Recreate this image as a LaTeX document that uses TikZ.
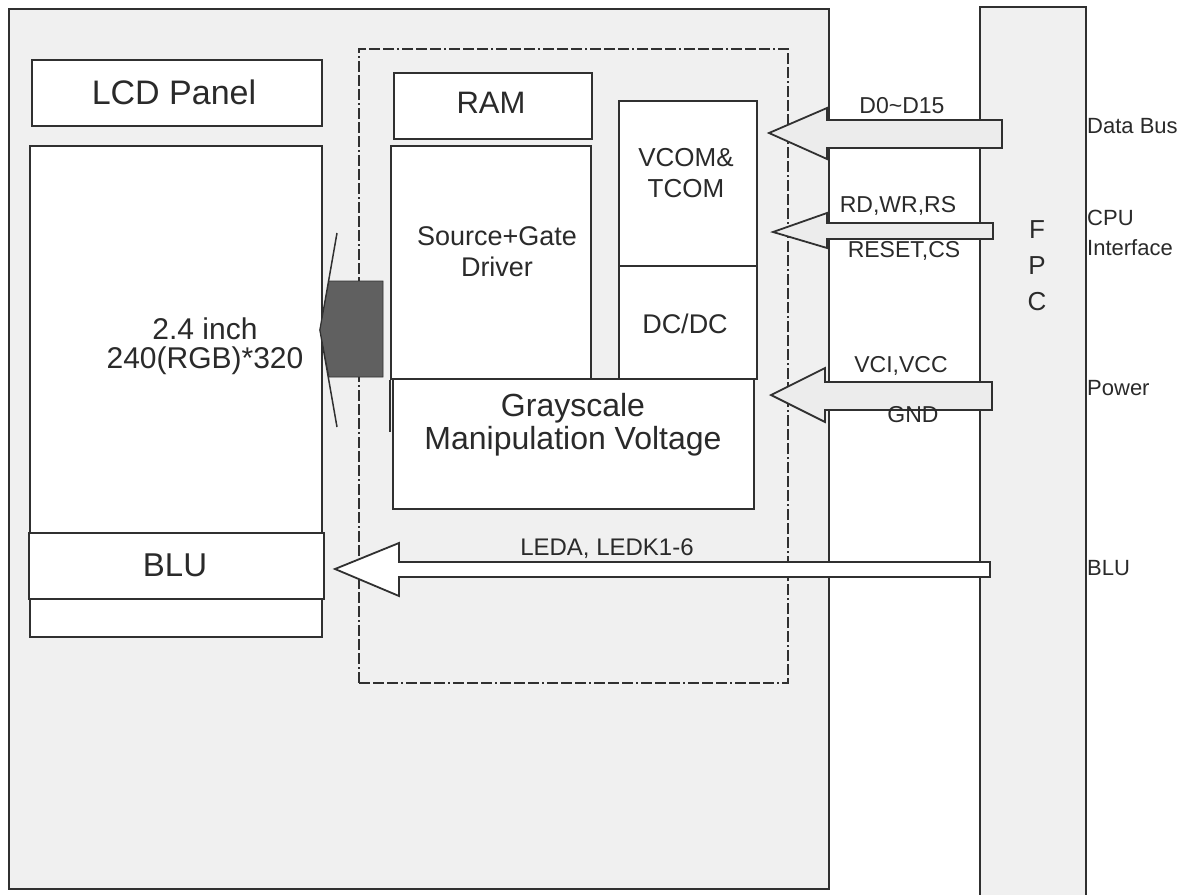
\documentclass[tikz,border=0pt]{standalone}
\usepackage{fontspec}
\setmainfont{Liberation Sans}
\definecolor{linec}{HTML}{303030}
\definecolor{bgray}{HTML}{F0F0F0}
\definecolor{agray}{HTML}{ECECEC}
\definecolor{dgray}{HTML}{606060}
\definecolor{txtc}{HTML}{2A2A2A}
\newcommand{\fsz}[2]{\fontsize{#1}{#2}\selectfont}
\begin{document}
\begin{tikzpicture}[x=1pt,y=-1pt,
  box/.style={draw=linec,line width=2pt,fill=white,inner sep=0pt,anchor=north west},
  txt/.style={inner sep=0pt,text=txtc,align=center},
  barrow/.style={draw=linec,line width=1.8pt,line join=miter,fill=agray}]
\useasboundingbox (0,0) rectangle (1199,894);
\fill[white] (0,0) rectangle (1199,894);
% outer frames
\node[box,fill=bgray,minimum width=820pt,minimum height=880pt] (main) at (8,8) {};
\node[box,fill=bgray,minimum width=106pt,minimum height=900pt] (fpc) at (979,6) {};
% LCD side
\node[box,minimum width=290pt,minimum height=66pt] (lcd) at (31,59) {};
\node[box,minimum width=292pt,minimum height=491pt] (panel) at (29,145) {};
\node[box,minimum width=295pt,minimum height=66pt] (blu) at (28,532) {};
% dark arrow head outline
\coordinate (dt) at (320,330);
\draw[linec,line width=1.5pt] (337,233) -- (dt) -- (337,427);
% dashed IC frame
\node[draw=linec,line width=2.2pt,dash pattern=on 11pt off 3pt on 11pt off 3pt on 11pt off 3pt on 2pt off 3pt,
      minimum width=429pt,minimum height=634pt,inner sep=0pt,anchor=north west] (ic) at (358,48) {};
% dark arrow body
\fill[dgray,draw=linec,line width=0.8pt] (383,281) -- (329,281) -- (dt) -- (329,377) -- (383,377) -- cycle;
% IC blocks
\node[box,minimum width=198pt,minimum height=66pt] (ram) at (393,72) {};
\node[box,minimum width=200pt,minimum height=233pt] (src) at (390,145) {};
\node[box,minimum width=138pt,minimum height=165pt] (vcom) at (618,100) {};
\node[box,minimum width=138pt,minimum height=113pt] (dcdc) at (618,265) {};
\node[box,minimum width=361pt,minimum height=130pt] (gray) at (392,378) {};
\draw[linec,line width=2pt] (src.south west) -- ++(0,52);
% block arrows
\draw[barrow] (1002,120) -- (827,120) -- (827,108) -- (769,133) -- (827,159) -- (827,148) -- (1002,148) -- cycle;
\draw[barrow] (993,223) -- (827,223) -- (827,213) -- (773,232) -- (827,248) -- (827,239) -- (993,239) -- cycle;
\draw[barrow] (992,382) -- (825,382) -- (825,368) -- (771,395) -- (825,422) -- (825,410) -- (992,410) -- cycle;
\draw[barrow,fill=white] (990,562) -- (399,562) -- (399,543) -- (335,569) -- (399,596) -- (399,577) -- (990,577) -- cycle;
% texts
\node[txt,font=\fsz{34}{38}] (tlcd) at (174,92) {LCD Panel};
\node[txt,font=\fsz{30}{29}] (tpan) at (205,346) {2.4 inch\\240(RGB)*320};
\node[txt,font=\fsz{33}{36}] (tblu) at (175,565) {BLU};
\node[txt,font=\fsz{31}{34}] (tram) at (491,103) {RAM};
\node[txt,font=\fsz{27}{31}] (tsrc) at (497,252) {Source+Gate\\Driver};
\node[txt,font=\fsz{26}{31}] (tvcom) at (686,173) {VCOM\&\\TCOM};
\node[txt,font=\fsz{27}{30}] (tdc) at (685,324) {DC/DC};
\node[txt,font=\fsz{32}{33}] (tgray) at (573,425) {Grayscale\\Manipulation Voltage};
\node[txt,font=\fsz{23}{26}] (d015) at (902,106) {D0\textasciitilde D15};
\node[txt,font=\fsz{23}{26}] (rdwr) at (898,206) {RD,WR,RS};
\node[txt,font=\fsz{23}{26}] (rst) at (904,251) {RESET,CS};
\node[txt,font=\fsz{23}{26}] (vci) at (901,366) {VCI,VCC};
\node[txt,font=\fsz{23}{26}] (gnd) at (913,415) {GND};
\node[txt,font=\fsz{24}{26}] (led) at (607,549) {LEDA, LEDK1-6};
\node[txt,font=\fsz{26}{36}] (tfpc) at (1037,266) {F\\P\\C};
\node[txt,font=\fsz{22}{24},anchor=west,align=left] (ldb) at (1087,126) {Data Bus};
\node[txt,font=\fsz{22}{30},anchor=west,align=left] (lcpu) at (1087,233) {CPU\\Interface};
\node[txt,font=\fsz{22}{24},anchor=west,align=left] (lpw) at (1087,388) {Power};
\node[txt,font=\fsz{22}{24},anchor=west,align=left] (lblu) at (1087,568) {BLU};
\end{tikzpicture}
\end{document}
